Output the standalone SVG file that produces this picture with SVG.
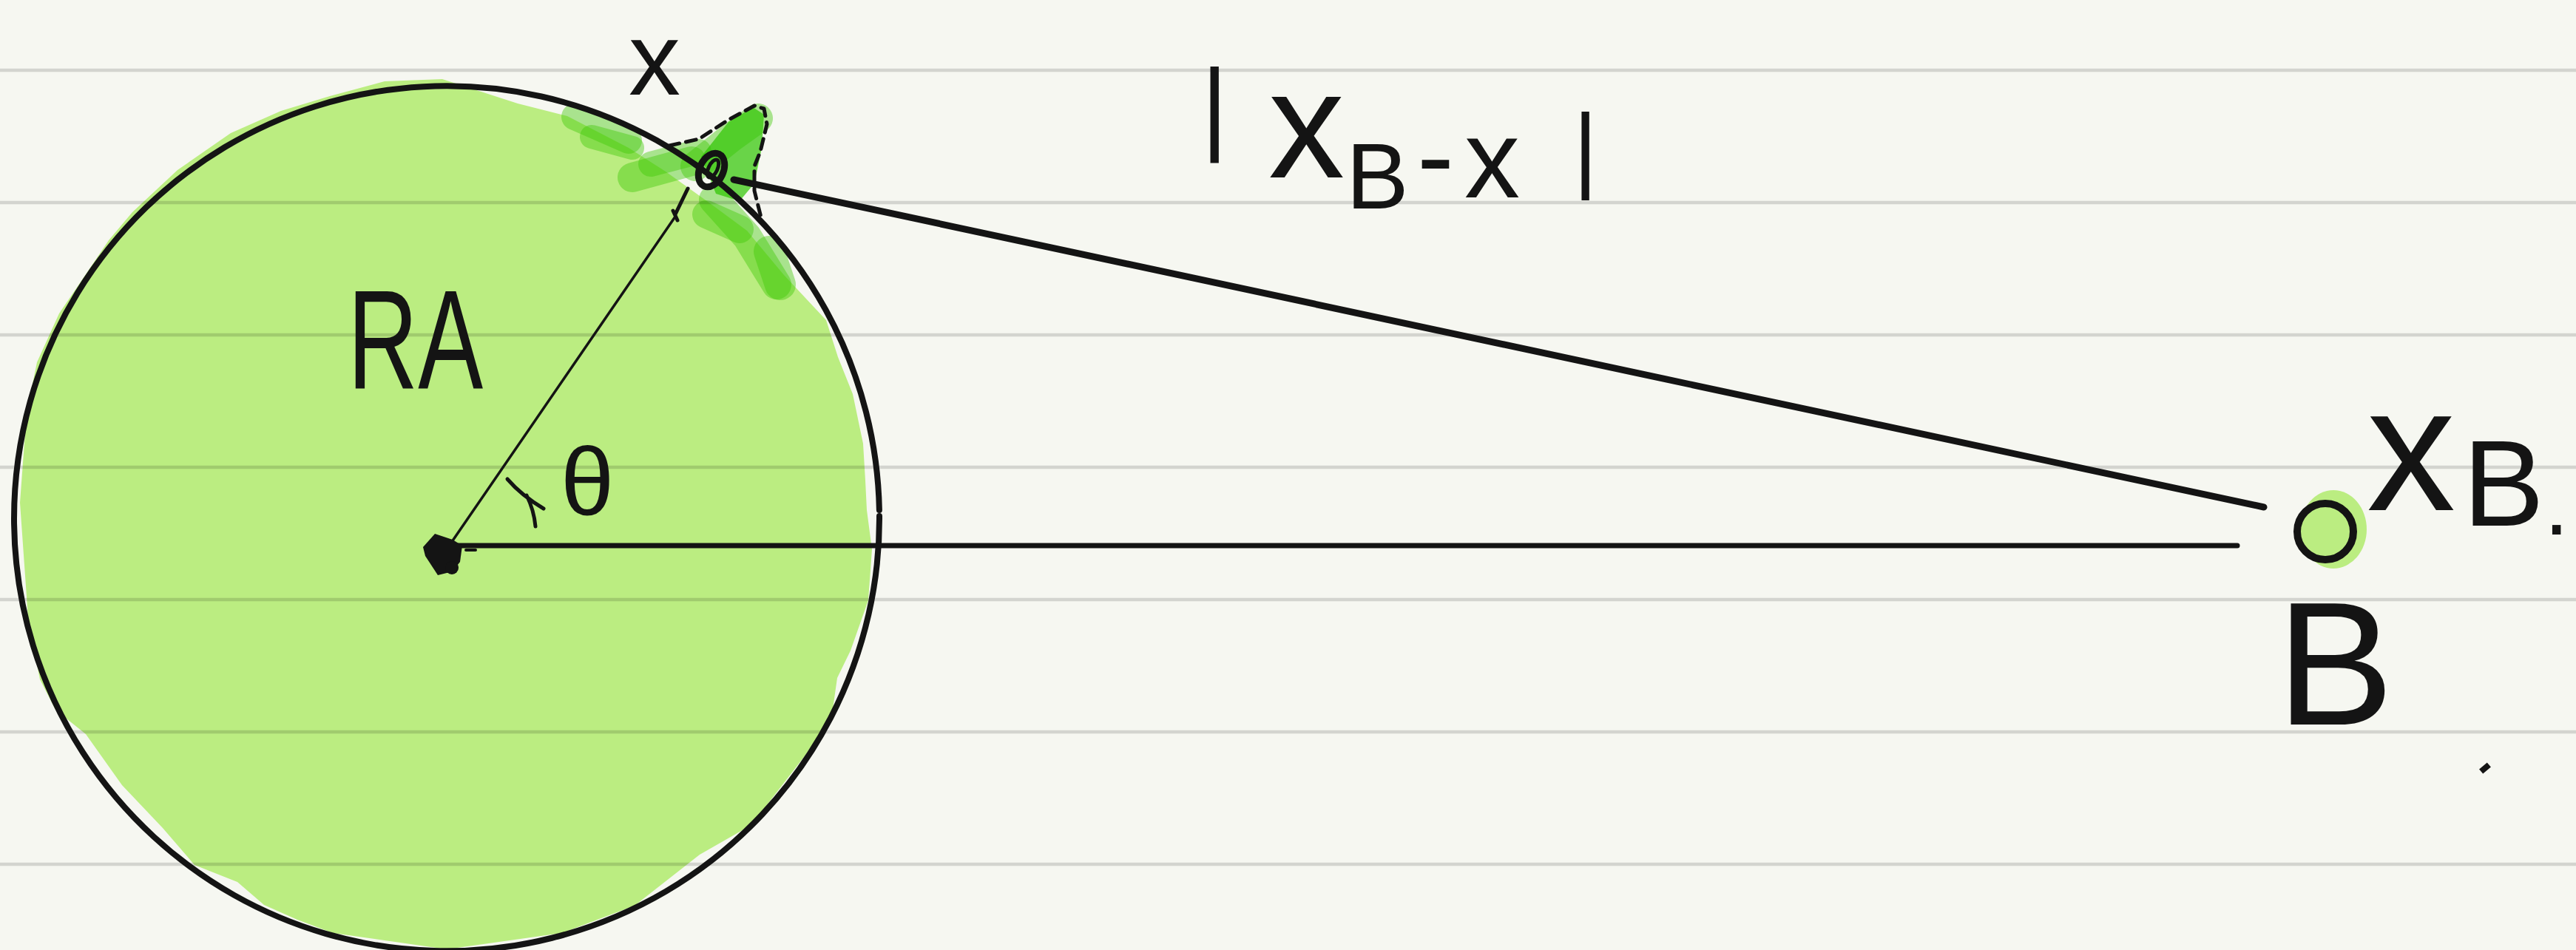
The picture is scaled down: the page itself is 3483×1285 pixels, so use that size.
<svg xmlns="http://www.w3.org/2000/svg" width="3483" height="1285" viewBox="0 0 3483 1285">
<style>
.rule{stroke:#000;stroke-opacity:0.14;stroke-width:4.5}
.ink{stroke:#141414;fill:none;stroke-linecap:round;stroke-linejoin:round}
.hw{font-family:"Liberation Sans","DejaVu Sans",sans-serif;fill:#141414}
.sm{fill:none;stroke:#3fc705;stroke-linecap:round;stroke-opacity:0.42}
</style>
<rect width="3483" height="1285" fill="#f6f7f1"/>
<g id="circleA">
<path fill="#bbed81" d="M598,107 L700,140 L767,157 L850,200 L900,232 L960,275 L1010,312 L1060,372 L1117,433 L1133,483 L1153,533 L1167,600 L1170,650 L1172,690 L1179,743 L1174,812 L1150,880 L1132,917 L1125,966 L1090,1020 L1016,1116 L946,1156 L858,1225 L760,1262 L604,1284 L450,1262 L402,1244 L357,1224 L321,1193 L263,1170 L220,1120 L165,1062 L116,993 L75,960 L54,919 L38,840 L36,807 L27,680 L36,558 L50,490 L80,424 L116,371 L147,325 L179,287 L240,230 L312,180 L380,150 L446,130 L520,110 Z"/>
<g id="smudge">
<path class="sm" d="M777,158 L850,190" stroke-width="36"/>
<path class="sm" d="M800,185 L855,200" stroke-width="32"/>
<path class="sm" d="M855,240 L935,218" stroke-width="40"/>
<path class="sm" d="M880,222 L945,205" stroke-width="34"/>
<path class="sm" d="M965,270 L1010,320 L1050,385" stroke-width="40"/>
<path class="sm" d="M955,290 L1000,310" stroke-width="38"/>
<path class="sm" d="M1040,340 L1055,385" stroke-width="42"/>
<path class="sm" d="M940,225 L990,185 L1025,160" stroke-width="40"/>
<path fill="#2ec400" fill-opacity="0.7" d="M948,212 L985,165 L1018,145 L1033,155 L1030,200 L1020,248 L1000,272 L968,262 Z"/>
<path class="ink" stroke-width="5" stroke-dasharray="14 9" d="M905,197 L945,188 L985,162 L1020,143 L1033,147 L1037,168 L1028,205 L1020,225 L1020,258 L1030,298"/>
</g>
</g>
<g id="rules">
<line class="rule" x1="0" y1="95" x2="3483" y2="95"/>
<line class="rule" x1="0" y1="274" x2="3483" y2="274"/>
<line class="rule" x1="0" y1="453" x2="3483" y2="453"/>
<line class="rule" x1="0" y1="632" x2="3483" y2="632"/>
<line class="rule" x1="0" y1="811" x2="3483" y2="811"/>
<line class="rule" x1="0" y1="990" x2="3483" y2="990"/>
<line class="rule" x1="0" y1="1169" x2="3483" y2="1169"/>
</g>
<g id="circleA-outline">
<path class="ink" stroke-width="8" d="M1189,698 A585,585 0 1 1 1188.9,690"/>
</g>
<g id="connectors">
<path class="ink" stroke-width="9" stroke-linecap="butt" d="M992,243 L3061,686"/>
<path class="ink" stroke-width="7" stroke-linecap="butt" d="M612,738 L3025,738"/>
<path class="ink" stroke-width="3.5" d="M606,740 L913,293"/>
<path class="ink" stroke-width="5" d="M913,290 L930,255 M910,285 L916,298"/>
</g>
<g id="centerA">
<path fill="#141414" d="M588,722 L612,730 L625,738 L622,760 L612,773 L592,778 L575,752 L572,740 Z"/>
<circle cx="611" cy="768" r="9" fill="#141414"/>
<path class="ink" stroke-width="4" d="M630,744 L643,744"/>
</g>
<g id="pointX">
<ellipse class="ink" cx="962" cy="230" rx="16" ry="24" stroke-width="9" transform="rotate(25 962 230)"/>
<ellipse class="ink" cx="964" cy="228" rx="6" ry="13" stroke-width="5" transform="rotate(25 964 228)"/>
</g>
<g id="pointB">
<ellipse cx="3155" cy="716" rx="45" ry="53" fill="#bbed81"/>
<circle cx="3144" cy="719" r="38" fill="#bbed81" stroke="#141414" stroke-width="10"/>
</g>
<g id="angleMark">
<path class="ink" stroke-width="5" d="M686,648 Q705,670 735,688 M712,670 Q722,690 724,712"/>
</g>
<g id="labels">
<text class="hw" x="850" y="128" font-size="140">x</text>
<text class="hw" font-size="191" transform="translate(470,526) scale(0.69,1)">RA</text>
<text class="hw" x="758" y="696" font-size="130">θ</text>
<text class="hw"><tspan x="1624" y="191" font-size="140">|</tspan><tspan x="1715" y="240" font-size="206">x</tspan><tspan x="1820" y="282" font-size="127">B</tspan><tspan x="1916" y="262" font-size="150">-</tspan><tspan x="1980" y="267" font-size="150">x</tspan><tspan x="2127" y="244" font-size="128">|</tspan></text>
<text class="hw"><tspan x="3200" y="690" font-size="240">x</tspan><tspan x="3330" y="711" font-size="165">B</tspan><tspan dy="12" font-size="120">.</tspan></text>
<text class="hw" x="3078" y="980" font-size="238">B</text>
<rect x="3353" y="1035" width="14" height="8" fill="#141414" transform="rotate(-40 3360 1039)"/>
</g>
</svg>
